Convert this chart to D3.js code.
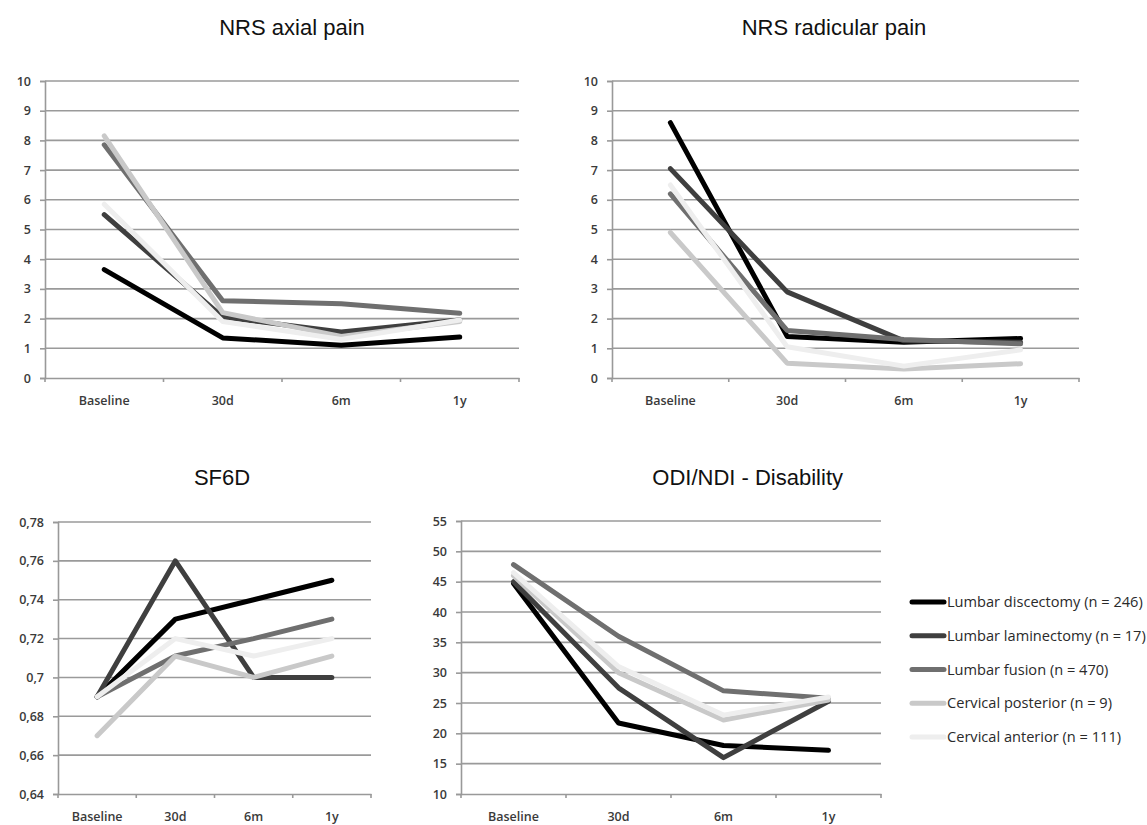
<!DOCTYPE html>
<html>
<head>
<meta charset="utf-8">
<script src="https://cdn.jsdelivr.net/npm/d3@7"></script>
<style>
  body { margin: 0; background: #fff; }
  .title { font-family: "Liberation Sans", Arial, sans-serif; font-size: 22px; fill: #111; }
  .legend text { font-family: "Open Sans", sans-serif; font-size: 14.6px; fill: #2a2a2a; }
</style>
</head>
<body>
<svg id="chart" width="1147" height="825"></svg>
<script>
// time points
var categories = ["Baseline", "30d", "6m", "1y"];

var seriesNames = [
  "Lumbar discectomy (n = 246)",
  "Lumbar laminectomy (n = 17)",
  "Lumbar fusion (n = 470)",
  "Cervical posterior (n = 9)",
  "Cervical anterior (n = 111)"
];
var seriesColors = ["#000000", "#3f3f3f", "#6f6f6f", "#c9c9c9", "#eeeeee"];

// values, one row per series
var axialPain = [
  [3.65, 1.35, 1.1, 1.38],
  [5.5, 2.05, 1.55, 1.95],
  [7.85, 2.6, 2.5, 2.18],
  [8.15, 2.2, 1.4, 1.9],
  [5.85, 1.9, 1.3, 1.95]
];
var radicularPain = [
  [8.6, 1.4, 1.2, 1.33],
  [7.05, 2.9, 1.25, 1.2],
  [6.2, 1.6, 1.3, 1.15],
  [4.9, 0.5, 0.3, 0.48],
  [6.5, 1.05, 0.4, 0.95]
];
var sf6d = [
  [0.69, 0.73, 0.74, 0.75],
  [0.69, 0.76, 0.70, 0.70],
  [0.69, 0.711, 0.72, 0.73],
  [0.67, 0.711, 0.70, 0.711],
  [0.69, 0.72, 0.711, 0.72]
];
var odi = [
  [44.7, 21.7, 18, 17.2],
  [45, 27.5, 16, 25.3],
  [47.8, 36, 27, 25.8],
  [46, 30, 22.2, 25.5],
  [46.5, 31, 23, 26]
];

var nrsTicks = [0, 1, 2, 3, 4, 5, 6, 7, 8, 9, 10];
var sf6dTicks = [0.64, 0.66, 0.68, 0.70, 0.72, 0.74, 0.76, 0.78];
var odiTicks = [10, 15, 20, 25, 30, 35, 40, 45, 50, 55];

var panels = [
  { title: "NRS axial pain", data: axialPain, ticks: nrsTicks, fmt: function(d) { return d; },
    x0: 45, x1: 519, yTop: 81, yBot: 378, tx: 292, ty: 35, anchor: "middle" },
  { title: "NRS radicular pain", data: radicularPain, ticks: nrsTicks, fmt: function(d) { return d; },
    x0: 612, x1: 1079, yTop: 81, yBot: 378, tx: 834, ty: 35, anchor: "middle" },
  { title: "SF6D", data: sf6d, ticks: sf6dTicks,
    fmt: function(d) { return (+d.toFixed(2)).toString().replace(".", ","); },
    x0: 58, x1: 371, yTop: 522, yBot: 794, tx: 222, ty: 485, anchor: "middle" },
  { title: "ODI/NDI - Disability", data: odi, ticks: odiTicks, fmt: function(d) { return d; },
    x0: 461, x1: 881, yTop: 521, yBot: 794, tx: 843, ty: 485, anchor: "end" }
];

var svg = d3.select("#chart");

panels.forEach(function(p) {
  var x = d3.scaleBand().domain(categories).range([p.x0, p.x1]);
  var y = d3.scaleLinear()
      .domain([p.ticks[0], p.ticks[p.ticks.length - 1]])
      .range([p.yBot, p.yTop]);

  var g = svg.append("g");

  g.append("text")
    .attr("class", "title")
    .attr("x", p.tx)
    .attr("y", p.ty)
    .attr("text-anchor", p.anchor)
    .text(p.title);

  // gridlines
  g.append("g")
    .selectAll("line")
    .data(p.ticks.slice(1))
    .enter().append("line")
      .attr("x1", p.x0)
      .attr("x2", p.x1)
      .attr("y1", function(d) { return y(d); })
      .attr("y2", function(d) { return y(d); })
      .attr("stroke", "#9a9a9a")
      .attr("stroke-width", 1.6);

  var yAxis = g.append("g")
    .attr("transform", "translate(" + p.x0 + ",0)")
    .call(d3.axisLeft(y).tickValues(p.ticks).tickFormat(p.fmt).tickSize(5).tickPadding(9));

  var xAxis = g.append("g")
    .attr("transform", "translate(0," + p.yBot + ")")
    .call(d3.axisBottom(x).tickSize(0).tickPadding(18));

  // excel style ticks between categories
  var bounds = categories.map(function(c) { return x(c); }).concat([p.x1]);
  xAxis.selectAll(".sep")
    .data(bounds)
    .enter().append("line")
      .attr("class", "sep")
      .attr("x1", function(d) { return d; })
      .attr("x2", function(d) { return d; })
      .attr("y1", 0)
      .attr("y2", 4)
      .attr("stroke", "#999")
      .attr("stroke-width", 1.6);

  [yAxis, xAxis].forEach(function(a) {
    a.select(".domain").attr("stroke", "#999").attr("stroke-width", 1.6);
    a.selectAll(".tick line").attr("stroke", "#999").attr("stroke-width", 1.6);
    a.selectAll(".tick text")
      .style("font-family", "'Open Sans', sans-serif")
      .style("font-size", "12.5px")
      .style("font-weight", "600")
      .attr("fill", "#3a3a3a");
  });

  var line = d3.line()
    .x(function(d, i) { return x(categories[i]) + x.bandwidth() / 2; })
    .y(function(d) { return y(d); });

  g.append("g")
    .selectAll("path")
    .data(p.data)
    .enter().append("path")
      .attr("d", line)
      .attr("fill", "none")
      .attr("stroke", function(d, i) { return seriesColors[i]; })
      .attr("stroke-width", 5)
      .attr("stroke-linejoin", "round")
      .attr("stroke-linecap", "round");
});

// legend
var legend = svg.append("g").attr("class", "legend");
var legY = d3.scalePoint().domain(seriesNames).range([602, 737]);

var item = legend.selectAll("g")
  .data(seriesNames)
  .enter().append("g")
    .attr("transform", function(d) { return "translate(0," + legY(d) + ")"; });

item.append("line")
  .attr("x1", 912)
  .attr("x2", 944)
  .attr("stroke", function(d, i) { return seriesColors[i]; })
  .attr("stroke-width", 5)
  .attr("stroke-linecap", "round");

item.append("text")
  .attr("x", 947)
  .attr("dy", "0.35em")
  .text(function(d) { return d; });
</script>
</body>
</html>
